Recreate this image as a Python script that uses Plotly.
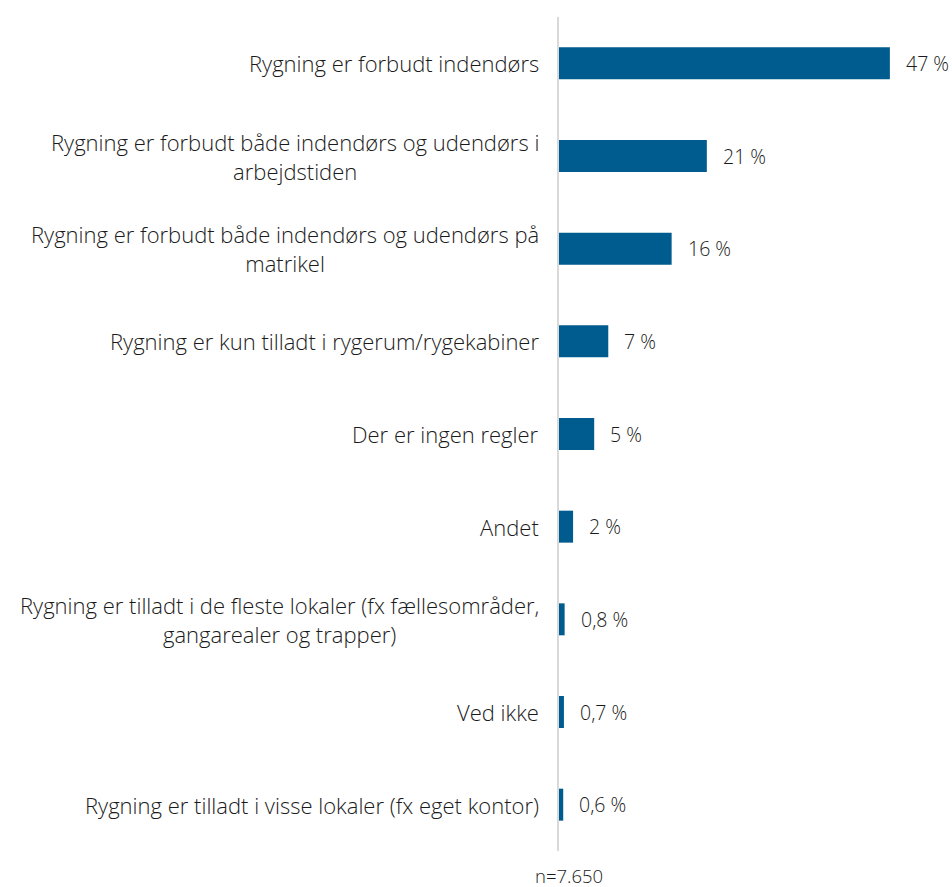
import plotly.graph_objects as go

categories = [
    "Rygning er forbudt indendørs",
    "Rygning er forbudt både indendørs og udendørs i<br>arbejdstiden",
    "Rygning er forbudt både indendørs og udendørs på<br>matrikel",
    "Rygning er kun tilladt i rygerum/rygekabiner",
    "Der er ingen regler",
    "Andet",
    "Rygning er tilladt i de fleste lokaler (fx fællesområder,<br>gangarealer og trapper)",
    "Ved ikke",
    "Rygning er tilladt i visse lokaler (fx eget kontor)",
]
values = [47, 21, 16, 7, 5, 2, 0.8, 0.7, 0.6]
value_labels = ["47 %", "21 %", "16 %", "7 %", "5 %", "2 %", "0,8 %", "0,7 %", "0,6 %"]
note = "n=7.650"

FONT = "'Open Sans', Lato, sans-serif"
BAR_COLOR = "#005b8e"
TEXT_COLOR = "#1a1a1a"

ids = list(range(len(categories)))

fig = go.Figure(
    go.Bar(
        x=values,
        y=ids,
        orientation="h",
        marker=dict(color=BAR_COLOR, line=dict(width=0)),
        width=0.345,
        hoverinfo="skip",
    )
)

annotations = []
for i, (cat, v, lab) in enumerate(zip(categories, values, value_labels)):
    annotations.append(dict(
        x=0, xref="paper", y=i, yref="y",
        text=cat, showarrow=False, xanchor="right", yanchor="middle",
        align="center", xshift=-18,
        font=dict(family=FONT, size=22, color=TEXT_COLOR, weight=350),
    ))
    annotations.append(dict(
        x=v, xref="x", y=i, yref="y",
        text=lab, showarrow=False, xanchor="left", yanchor="middle",
        xshift=14,
        font=dict(family=FONT, size=19.5, color=TEXT_COLOR, weight=350),
    ))

annotations.append(dict(
    x=0, xref="paper", y=0, yref="paper", text=note, showarrow=False,
    xanchor="left", yanchor="top", xshift=-26, yshift=-10,
    font=dict(family=FONT, size=18.5, color=TEXT_COLOR, weight=350),
))

fig.update_layout(
    width=952, height=887,
    margin=dict(l=559, r=3, t=17, b=36),
    paper_bgcolor="white", plot_bgcolor="white",
    showlegend=False,
    annotations=annotations,
    xaxis=dict(range=[0, 55.4], visible=False, fixedrange=True),
    yaxis=dict(
        range=[len(categories) - 0.5, -0.5],
        showticklabels=False, showgrid=False, zeroline=False,
        showline=True, linecolor="#d9d9d9", linewidth=2,
        ticks="", fixedrange=True,
    ),
)

fig.write_html("out.html")
